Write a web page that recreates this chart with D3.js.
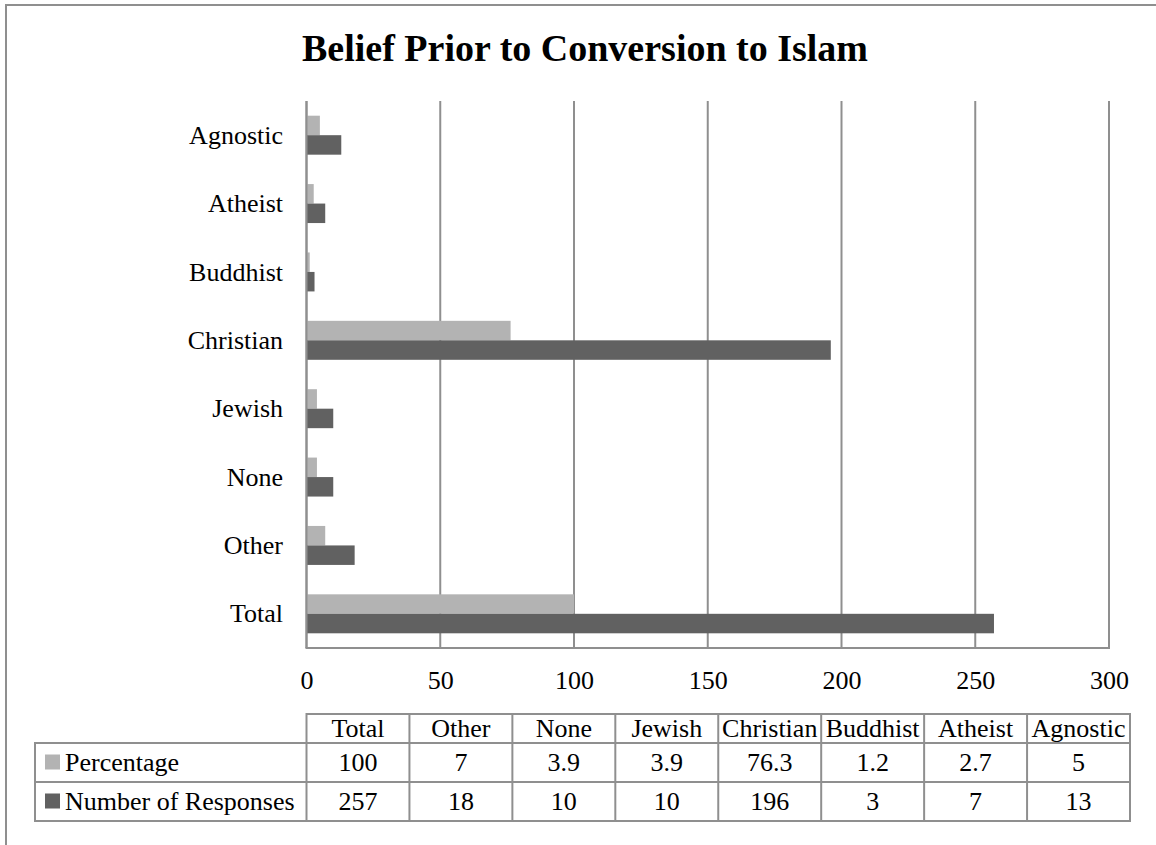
<!DOCTYPE html>
<html>
<head>
<meta charset="utf-8">
<script src="https://cdn.jsdelivr.net/npm/d3@7"></script>
<style>
  html, body { margin: 0; padding: 0; background: #fff; }
  svg { display: block; }
  svg text { font-family: "Liberation Serif", "Times New Roman", "DejaVu Serif", serif; }
</style>
</head>
<body>
<svg id="chart" width="1156" height="845"></svg>
<script>
// Bar rows, top to bottom
const categories = ["Agnostic", "Atheist", "Buddhist", "Christian", "Jewish", "None", "Other", "Total"];
// Data table columns, left to right
const tableCategories = ["Total", "Other", "None", "Jewish", "Christian", "Buddhist", "Atheist", "Agnostic"];
const seriesNames = ["Percentage", "Number of Responses"];
const percentage = [100, 7, 3.9, 3.9, 76.3, 1.2, 2.7, 5];
const responses = [257, 18, 10, 10, 196, 3, 7, 13];
const tickValues = [0, 50, 100, 150, 200, 250, 300];
const titleText = "Belief Prior to Conversion to Islam";

const serif = "Liberation Serif, Times New Roman, serif";
const colors = { "Percentage": "#b3b3b3", "Number of Responses": "#616161" };
const lineColor = "#8f8f8f";

const svg = d3.select("#chart");

// outer chart frame
svg.append("rect")
  .attr("x", 6).attr("y", 5).attr("width", 1300).attr("height", 1000)
  .attr("fill", "none").attr("stroke", lineColor).attr("stroke-width", 2);

// title
svg.append("text")
  .attr("x", 585).attr("y", 61)
  .attr("text-anchor", "middle")
  .attr("font-family", serif)
  .attr("font-size", 38).attr("font-weight", "bold")
  .attr("fill", "#000")
  .text(titleText);

const plot = { left: 306.5, right: 1109, top: 101, bottom: 648 };

const x = d3.scaleLinear().domain([0, 300]).range([plot.left, plot.right]);
const y = d3.scaleBand().domain(categories).range([plot.top, plot.bottom])
  .paddingInner(0.43).paddingOuter(0.215);
const ySeries = d3.scaleBand().domain(seriesNames).range([0, y.bandwidth()]);

// rows keyed by category
const rows = tableCategories.map((c, i) => ({
  category: c,
  values: { "Percentage": percentage[i], "Number of Responses": responses[i] }
}));

// vertical gridlines
svg.append("g")
  .selectAll("line")
  .data(tickValues)
  .join("line")
  .attr("x1", d => x(d)).attr("x2", d => x(d))
  .attr("y1", plot.top).attr("y2", plot.bottom)
  .attr("stroke", lineColor).attr("stroke-width", 2);

// bars
const groups = svg.append("g")
  .selectAll("g")
  .data(rows)
  .join("g")
  .attr("transform", d => `translate(0,${y(d.category)})`);

groups.selectAll("rect")
  .data(d => seriesNames.map(s => ({ series: s, value: d.values[s] })))
  .join("rect")
  .attr("x", x(0))
  .attr("y", d => ySeries(d.series))
  .attr("width", d => x(d.value) - x(0))
  .attr("height", ySeries.bandwidth())
  .attr("fill", d => colors[d.series]);

// axis lines (left and bottom)
svg.append("line")
  .attr("x1", x(0)).attr("x2", x(0)).attr("y1", plot.top).attr("y2", plot.bottom)
  .attr("stroke", lineColor).attr("stroke-width", 2);
svg.append("line")
  .attr("x1", x(0) - 1).attr("x2", x(300) + 1).attr("y1", plot.bottom).attr("y2", plot.bottom)
  .attr("stroke", lineColor).attr("stroke-width", 2);

// category labels
svg.append("g")
  .selectAll("text")
  .data(categories)
  .join("text")
  .attr("x", 283)
  .attr("y", d => y(d) + y.bandwidth() / 2)
  .attr("dy", "0.33em")
  .attr("text-anchor", "end")
  .attr("font-family", serif)
  .attr("font-size", 26)
  .attr("fill", "#000")
  .text(d => d);

// value axis labels
const xAxis = svg.append("g")
  .attr("transform", `translate(0,${plot.bottom})`)
  .call(d3.axisBottom(x).tickValues(tickValues).tickSize(0).tickPadding(0).tickFormat(d3.format("d")))
  .attr("font-family", serif)
  .attr("font-size", 26);
xAxis.select(".domain").remove();
xAxis.selectAll("text")
  .attr("y", 32).attr("dy", "0.33em")
  .attr("font-family", serif)
  .attr("font-size", 26)
  .attr("fill", "#000");

// data table
const col = d3.scaleBand().domain(tableCategories).range([306.5, 1130]);
const tbl = { labelLeft: 35, headTop: 714, headBottom: 743, rowH: 39 };
const rowTop = i => tbl.headBottom + i * tbl.rowH;
const tableBottom = rowTop(seriesNames.length);
const tg = svg.append("g").attr("font-family", serif);

// header cells
tg.selectAll("text.head")
  .data(tableCategories)
  .join("text")
  .attr("class", "head")
  .attr("x", d => col(d) + col.bandwidth() / 2)
  .attr("y", (tbl.headTop + tbl.headBottom) / 2)
  .attr("dy", "0.33em")
  .attr("text-anchor", "middle")
  .attr("font-family", serif)
  .attr("font-size", 26)
  .attr("fill", "#000")
  .text(d => d);

// value cells with legend keys
seriesNames.forEach((s, i) => {
  const cy = rowTop(i) + tbl.rowH / 2;
  tg.append("rect")
    .attr("x", 45).attr("y", cy - 8).attr("width", 15).attr("height", 15)
    .attr("fill", colors[s]);
  tg.append("text")
    .attr("x", 65).attr("y", cy).attr("dy", "0.33em")
    .attr("font-family", serif)
    .attr("font-size", 26).attr("fill", "#000")
    .text(s);
  tg.selectAll(null)
    .data(rows)
    .join("text")
    .attr("x", d => col(d.category) + col.bandwidth() / 2)
    .attr("y", cy).attr("dy", "0.33em")
    .attr("text-anchor", "middle")
    .attr("font-family", serif)
    .attr("font-size", 26).attr("fill", "#000")
    .text(d => d.values[s]);
});

// table grid lines
const hLines = [
  { x1: col.range()[0], x2: col.range()[1], y: tbl.headTop },
  ...d3.range(seriesNames.length + 1).map(i => ({ x1: tbl.labelLeft, x2: col.range()[1], y: rowTop(i) }))
];
tg.selectAll("line.h")
  .data(hLines)
  .join("line")
  .attr("x1", d => d.x1).attr("x2", d => d.x2)
  .attr("y1", d => d.y).attr("y2", d => d.y)
  .attr("stroke", lineColor).attr("stroke-width", 2);

const vLines = [
  { x: tbl.labelLeft, y1: tbl.headBottom },
  ...tableCategories.map(c => ({ x: col(c), y1: tbl.headTop })),
  { x: col.range()[1], y1: tbl.headTop }
];
tg.selectAll("line.v")
  .data(vLines)
  .join("line")
  .attr("x1", d => d.x).attr("x2", d => d.x)
  .attr("y1", d => d.y1 - 1).attr("y2", tableBottom + 1)
  .attr("stroke", lineColor).attr("stroke-width", 2);
</script>
</body>
</html>
